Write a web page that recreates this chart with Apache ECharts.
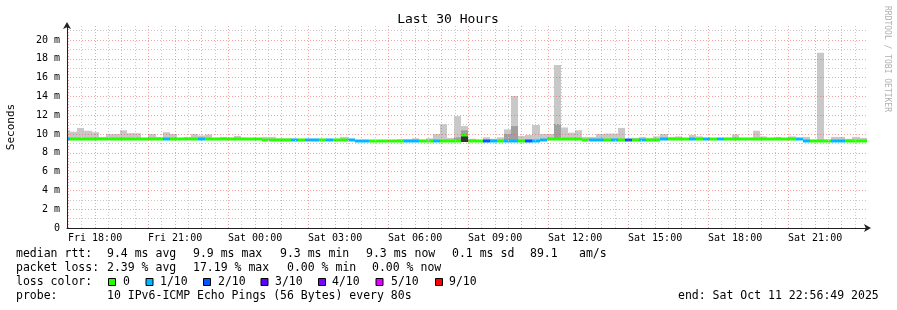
<!DOCTYPE html>
<html><head><meta charset="utf-8">
<script src="https://cdn.jsdelivr.net/npm/echarts@6/dist/echarts.min.js"></script>
<style>html,body{margin:0;padding:0;background:#fff}#c{width:897px;height:310px}</style>
</head><body><div id="c"></div>
<script>
// ---- time frame (hours since Fri 00:00) ----
const START_HOUR = 16 + 56/60 + 49/3600;   // Fri 16:56:49
const END_HOUR = START_HOUR + 30;          // Sat 22:56:49
const FIRST_BIN_HOUR = 16.8;
const BIN_HOURS = 16/60;

// ---- series values (ms) ----
const medianMs = [
  9.47,9.47,9.47,9.47,9.47,9.47,9.47,9.47,9.47,9.47,
  9.47,9.47,9.47,9.47,9.47,9.47,9.47,9.47,9.47,9.47,
  9.47,9.47,9.47,9.47,9.47,9.47,9.47,9.47,9.4,9.4,
  9.4,9.4,9.4,9.4,9.4,9.4,9.4,9.4,9.4,9.4,
  9.4,9.27,9.27,9.27,9.27,9.27,9.27,9.27,9.27,9.27,
  9.27,9.27,9.27,9.27,9.27,9.27,9.9,9.3,9.22,9.22,
  9.3,9.3,9.3,9.3,9.3,9.25,9.3,9.36,9.5,9.5,
  9.5,9.43,9.43,9.35,9.35,9.35,9.35,9.35,9.35,9.35,
  9.35,9.35,9.35,9.35,9.45,9.45,9.45,9.45,9.45,9.45,
  9.45,9.45,9.45,9.45,9.45,9.45,9.45,9.45,9.45,9.45,
  9.45,9.45,9.45,9.45,9.27,9.27,9.27,9.27,9.27,9.27,
  9.27,9.27,9.27
];
const lossClass = [
  1,0,0,0,0,0,0,0,0,0,
  0,0,0,0,1,0,0,0,0,1,
  0,0,0,0,0,0,0,0,0,0,
  0,0,1,0,1,1,0,1,0,0,
  1,1,1,0,0,0,0,0,1,1,
  0,0,1,0,0,0,0,0,0,2,
  1,0,1,1,0,2,1,1,0,0,
  0,0,0,0,1,1,0,1,0,2,
  0,1,0,0,1,0,0,0,1,0,
  1,0,1,0,0,0,0,0,0,0,
  0,0,0,1,1,0,0,0,1,1,
  0,0,0
];
const smokeMaxMs = [
  10.4,10.25,10.65,10.35,10.2,9.7,10.0,10.0,10.4,10.1,
  10.1,9.6,10.0,9.7,10.2,10.0,9.6,9.7,10.0,9.85,
  9.95,9.6,9.7,9.6,9.8,9.6,9.55,9.55,9.7,9.7,
  9.55,9.55,9.5,9.5,9.5,9.5,9.5,9.5,9.5,9.7,
  9.5,9.35,9.35,9.35,9.35,9.35,9.35,9.45,9.45,9.55,
  9.4,9.55,10.0,11.06,9.6,11.9,10.85,9.5,9.4,9.65,
  9.5,9.65,10.5,14.05,9.8,9.9,10.96,10.0,10.0,17.35,
  10.7,10.15,10.4,9.7,9.7,10.0,10.05,10.05,10.65,9.4,
  9.6,9.7,9.6,9.75,10.0,9.7,9.75,9.55,9.9,9.75,
  9.5,9.55,9.6,9.6,9.95,9.6,9.6,10.35,9.75,9.55,
  9.7,9.55,9.75,9.55,9.7,9.4,18.65,9.4,9.7,9.7,
  9.5,9.7,9.6
];
const smokeMidMs = {55: 9.65, 56: 10.4, 62: 10.0, 63: 10.85, 69: 11.06};
const smokeDenseMs = {56: [9.15, 9.9]};

// ---- labels ----
const lossColors = ['#26ff00','#00b8ff','#0059ff','#5e00ff','#7e00ff','#dd00ff','#ff0000'];
const lossLabels = ['0','1/10','2/10','3/10','4/10','5/10','9/10'];
const xTickHours = [18,21,24,27,30,33,36,39,42,45];
const xTickLabels = ['Fri 18:00','Fri 21:00','Sat 00:00','Sat 03:00','Sat 06:00','Sat 09:00','Sat 12:00','Sat 15:00','Sat 18:00','Sat 21:00'];
const yTickValues = [0,2,4,6,8,10,12,14,16,18,20];
const yTickLabels = ['0','2 m','4 m','6 m','8 m','10 m','12 m','14 m','16 m','18 m','20 m'];
const rttStats = ['median rtt:','9.4 ms avg','9.9 ms max','9.3 ms min','9.3 ms now','0.1 ms sd','89.1','am/s'];
const lossStats = ['packet loss:','2.39 % avg','17.19 % max','0.00 % min','0.00 % now'];
const probeText = ['probe:','10 IPv6-ICMP Echo Pings (56 Bytes) every 80s'];
const endText = 'end: Sat Oct 11 22:56:49 2025';
const titleText = 'Last 30 Hours';
const yName = 'Seconds';
const sideText = 'RRDTOOL / TOBI OETIKER';

// ---- build ----
const FONT = '"DejaVu Sans Mono", monospace';
const binData = medianMs.map((m, i) => {
  const mid = smokeMidMs[i] || 0;
  const d = smokeDenseMs[i] || [0, 0];
  return [FIRST_BIN_HOUR + i*BIN_HOURS, FIRST_BIN_HOUR + (i+1)*BIN_HOURS, m, smokeMaxMs[i], mid, lossClass[i], d[0], d[1]];
});

const RED = 'rgba(235,70,70,0.5)';
const GRAY = '#c8c8c8';
const gridLines = [];
for (let h = 17; h <= 46; h++) gridLines.push({xAxis: h, lineStyle: {color: RED, type: [1,2], width: 1}});
for (let h = 17.5; h < END_HOUR; h += 1) gridLines.push({xAxis: h, lineStyle: {color: GRAY, type: [1,2], width: 1}});
for (let v = 1; v <= 21; v++) gridLines.push({yAxis: v, lineStyle: {color: v % 2 === 0 ? RED : GRAY, type: [1,2], width: 1}});

function renderBin(params, api) {
  const cs = params.coordSys;
  const clampX = x => Math.max(cs.x, Math.min(cs.x + cs.width, x));
  const x0 = Math.round(clampX(api.coord([api.value(0), 0])[0]));
  const x1 = Math.round(clampX(api.coord([api.value(1), 0])[0]));
  const w = x1 - x0;
  if (w <= 0) return;
  const yMed = api.coord([0, api.value(2)])[1];
  const yMax = api.coord([0, api.value(3)])[1];
  const children = [];
  if (yMax < yMed) children.push({type: 'rect', shape: {x: x0, y: yMax, width: w, height: yMed - yMax}, style: {fill: '#c8c8c8'}});
  const mid = api.value(4);
  if (mid > 0) {
    const yMid = api.coord([0, mid])[1];
    children.push({type: 'rect', shape: {x: x0, y: yMid, width: w, height: yMed - yMid}, style: {fill: '#a0a0a0'}});
  }
  const dLo = api.value(6), dHi = api.value(7);
  if (dHi > 0) {
    const yLo = api.coord([0, dLo])[1], yHi = api.coord([0, dHi])[1];
    children.push({type: 'rect', shape: {x: x0, y: yHi, width: w, height: yLo - yHi}, style: {fill: '#333333'}});
  }
  children.push({type: 'rect', shape: {x: x0, y: Math.round(yMed) - 1.5, width: w, height: 3}, style: {fill: lossColors[api.value(5)]}});
  return {type: 'group', children};
}

const graphics = [];
const txt = (x, y, text, extra) => Object.assign({type: 'text', x, y, style: {text, font: '11.5px ' + FONT, fill: '#000', align: 'left', verticalAlign: 'middle'}}, extra || {});
graphics.push({type: 'text', x: 448, y: 19.5, style: {text: titleText, font: '13px ' + FONT, fill: '#000', align: 'center', verticalAlign: 'middle'}});
graphics.push({type: 'text', x: 11, y: 127, rotation: Math.PI/2, style: {text: yName, font: '11px ' + FONT, fill: '#000', align: 'center', verticalAlign: 'middle'}});
graphics.push({type: 'text', x: 887, y: 59, rotation: -Math.PI/2, style: {text: sideText, font: '8px ' + FONT, fill: '#b0b0b0', align: 'center', verticalAlign: 'middle'}});
const rttX = [16,107,193,280,366,452,530,579];
rttStats.forEach((t, i) => graphics.push(txt(rttX[i], 254.5, t)));
const lossX = [16,107,193,287,372];
lossStats.forEach((t, i) => graphics.push(txt(lossX[i], 268, t)));
graphics.push(txt(16, 282, 'loss color:'));
const boxX = [108.5,146,203.5,261,318.5,376,435.5];
const lblX = [123,160,218,275,332,391,449];
lossLabels.forEach((t, i) => {
  graphics.push({type: 'rect', shape: {x: boxX[i], y: 278.5, width: 7, height: 7}, style: {fill: lossColors[i], stroke: '#000', lineWidth: 1}});
  graphics.push(txt(lblX[i], 282, t));
});
graphics.push(txt(16, 296, probeText[0]));
graphics.push(txt(107, 296, probeText[1]));
graphics.push(txt(678, 296, endText));

const chart = echarts.init(document.getElementById('c'), null, {renderer: 'canvas'});
chart.setOption({
  animation: false,
  backgroundColor: '#ffffff',
  grid: {left: 67, right: 30, top: 26, bottom: 82, containLabel: false},
  xAxis: {
    type: 'value', min: START_HOUR, max: END_HOUR, z: 10,
    axisLine: {show: true, lineStyle: {color: '#222', width: 1}, symbol: ['none', 'arrow'], symbolSize: [6, 7], symbolOffset: [0, 4]},
    axisTick: {show: false},
    splitLine: {show: false},
    axisLabel: {
      customValues: xTickHours, margin: 5, color: '#000', fontFamily: FONT, fontSize: 10,
      formatter: v => { const k = xTickHours.indexOf(Math.round(v)); return k >= 0 ? xTickLabels[k] : ''; }
    }
  },
  yAxis: {
    type: 'value', min: 0, max: 21.5, interval: 2, z: 10,
    axisLine: {show: true, lineStyle: {color: '#222', width: 1}, symbol: ['none', 'arrow'], symbolSize: [6, 7], symbolOffset: [0, 4]},
    axisTick: {show: false},
    splitLine: {show: false},
    axisLabel: {
      margin: 7, color: '#000', fontFamily: FONT, fontSize: 10, showMaxLabel: false,
      formatter: v => { const k = yTickValues.indexOf(v); return k >= 0 ? yTickLabels[k] : ''; }
    }
  },
  series: [
    {type: 'line', data: [], z: 1, silent: true,
     markLine: {silent: true, symbol: ['none', 'none'], label: {show: false}, animation: false, data: gridLines}},
    {type: 'custom', z: 3, data: binData, renderItem: renderBin, encode: {x: [0, 1], y: [2, 3]}, silent: true}
  ],
  graphic: graphics
});
</script>
</body></html>
